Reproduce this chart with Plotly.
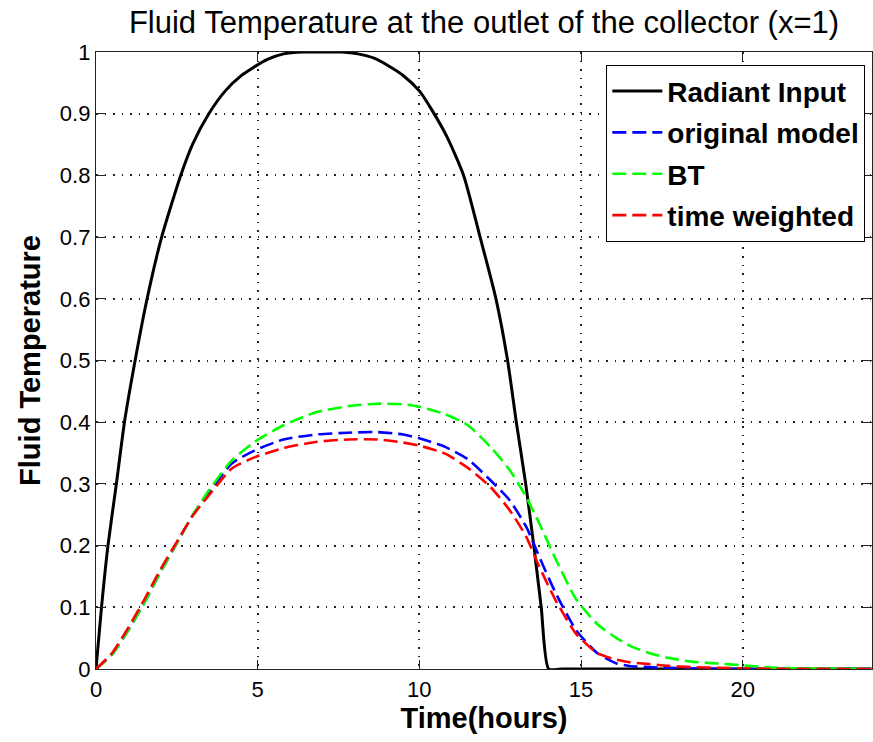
import plotly.graph_objects as go

# ---- data ----
t_rad = [0, 0.17, 0.37, 0.63, 0.88, 1.21, 1.58, 2.03, 2.62, 3.0, 3.49, 4.0, 4.5, 4.87,
         5.3, 5.8, 6.4, 7.0, 7.6, 8.1, 8.6, 9.0, 9.5, 10.0, 10.4, 10.86, 11.37, 11.88,
         12.37, 12.73, 13.0, 13.29, 13.54, 13.77, 14.0, 14.4, 24]
radiant = [0, 0.1, 0.2, 0.3, 0.4, 0.5, 0.6, 0.7, 0.8, 0.852, 0.9, 0.937, 0.962, 0.975,
           0.988, 0.997, 1.0, 1.0, 1.0, 0.997, 0.99, 0.979, 0.962, 0.937, 0.905, 0.862, 0.8,
           0.7, 0.6, 0.5, 0.4, 0.3, 0.2, 0.1, 0, 0, 0]

t_model = [0, 0.5, 1.0, 1.5, 2.0, 2.5, 3.0, 3.5, 4.2, 4.9, 5.8, 6.8, 7.8, 8.7, 9.5, 10.0,
           10.8, 11.5, 12.2, 12.8, 13.3, 13.7, 14.2, 14.85, 15.5, 16.1, 16.5, 17.1, 17.7,
           18.4, 19.2, 20.0, 21.0, 24]
original = [0, 0.024, 0.063, 0.108, 0.158, 0.204, 0.25, 0.287, 0.333, 0.354, 0.372, 0.380,
            0.383, 0.384, 0.380, 0.374, 0.360, 0.340, 0.306, 0.273, 0.231, 0.183, 0.125,
            0.063, 0.026, 0.009, 0.005, 0.003, 0.002, 0.001, 0.0005, 0, 0, 0]
bt = [0, 0.024, 0.063, 0.108, 0.158, 0.204, 0.25, 0.29, 0.338, 0.368, 0.395, 0.416,
      0.426, 0.430, 0.429, 0.425, 0.413, 0.395, 0.360, 0.322, 0.279, 0.237, 0.180,
      0.113, 0.073, 0.050, 0.038, 0.026, 0.018, 0.012, 0.009, 0.006, 0.002, 0]
time_weighted = [0, 0.026, 0.067, 0.113, 0.162, 0.206, 0.249, 0.282, 0.325, 0.343, 0.358,
                 0.368, 0.372, 0.372, 0.367, 0.362, 0.349, 0.326, 0.295, 0.257, 0.215,
                 0.167, 0.113, 0.057, 0.026, 0.015, 0.011, 0.008, 0.005, 0.003, 0.002,
                 0.001, 0, 0]

series_names = ["Radiant Input", "original model", "BT", "time weighted"]
x_ticks = [0, 5, 10, 15, 20]
y_ticks = [0, 0.1, 0.2, 0.3, 0.4, 0.5, 0.6, 0.7, 0.8, 0.9, 1]
y_tick_labels = ["0", "0.1", "0.2", "0.3", "0.4", "0.5", "0.6", "0.7", "0.8", "0.9", "1"]

FONT = "Liberation Sans, Arial, Helvetica, sans-serif"
DASH = "14px,6px"

fig = go.Figure()
fig.add_trace(go.Scatter(x=t_rad, y=radiant, mode="lines", name=series_names[0],
                         legendgroup="a",
                         line=dict(color="black", width=3, shape="spline", smoothing=0.6)))
fig.add_trace(go.Scatter(x=t_model, y=original, mode="lines", name=series_names[1],
                         legendgroup="b", line=dict(color="#0000FF", width=2.6, dash=DASH,
                                                    shape="spline", smoothing=0.6)))
fig.add_trace(go.Scatter(x=t_model, y=bt, mode="lines", name=series_names[2],
                         legendgroup="c", line=dict(color="#00FF00", width=2.6, dash=DASH,
                                                    shape="spline", smoothing=0.6)))
fig.add_trace(go.Scatter(x=t_model, y=time_weighted, mode="lines", name=series_names[3],
                         legendgroup="d", line=dict(color="#FF0000", width=2.6, dash=DASH,
                                                    shape="spline", smoothing=0.6)))

axis_common = dict(
    showline=True, linecolor="#222", linewidth=1.3, mirror="ticks",
    ticks="inside", ticklen=9, tickcolor="#222", tickwidth=1,
    showgrid=True, gridcolor="#222", griddash="1.5px,7px", gridwidth=1.5,
    zeroline=False, tickfont=dict(family=FONT, size=22, color="black"),
)

fig.update_xaxes(range=[0, 24], tickvals=x_ticks, ticktext=[str(v) for v in x_ticks],
                 title=dict(text="<b>Time(hours)</b>", standoff=6,
                            font=dict(family=FONT, size=29, color="black")),
                 **axis_common)
fig.update_yaxes(range=[0, 1], tickvals=y_ticks, ticktext=y_tick_labels,
                 title=dict(text="<b>Fluid Temperature</b>", standoff=10,
                            font=dict(family=FONT, size=29, color="black")),
                 **axis_common)

fig.update_layout(
    width=873, height=742,
    margin=dict(l=96, r=1, t=52, b=73),
    paper_bgcolor="white", plot_bgcolor="white",
    title=dict(text="Fluid Temperature at the outlet of the collector (x=1)",
               x=0.5, xref="paper", xanchor="center",
               y=1 - 22 / 742, yref="container", yanchor="middle",
               font=dict(family=FONT, size=31, color="black")),
    legend=dict(x=0.991, xanchor="right", y=0.979, yanchor="top",
                bgcolor="white", bordercolor="black", borderwidth=1.3,
                font=dict(family=FONT, size=28, color="black"),
                tracegroupgap=2, itemwidth=50),
    showlegend=True,
)
# bold legend text
for tr in fig.data:
    tr.name = "<b>" + tr.name + "</b>"

fig.write_html("out.html")
